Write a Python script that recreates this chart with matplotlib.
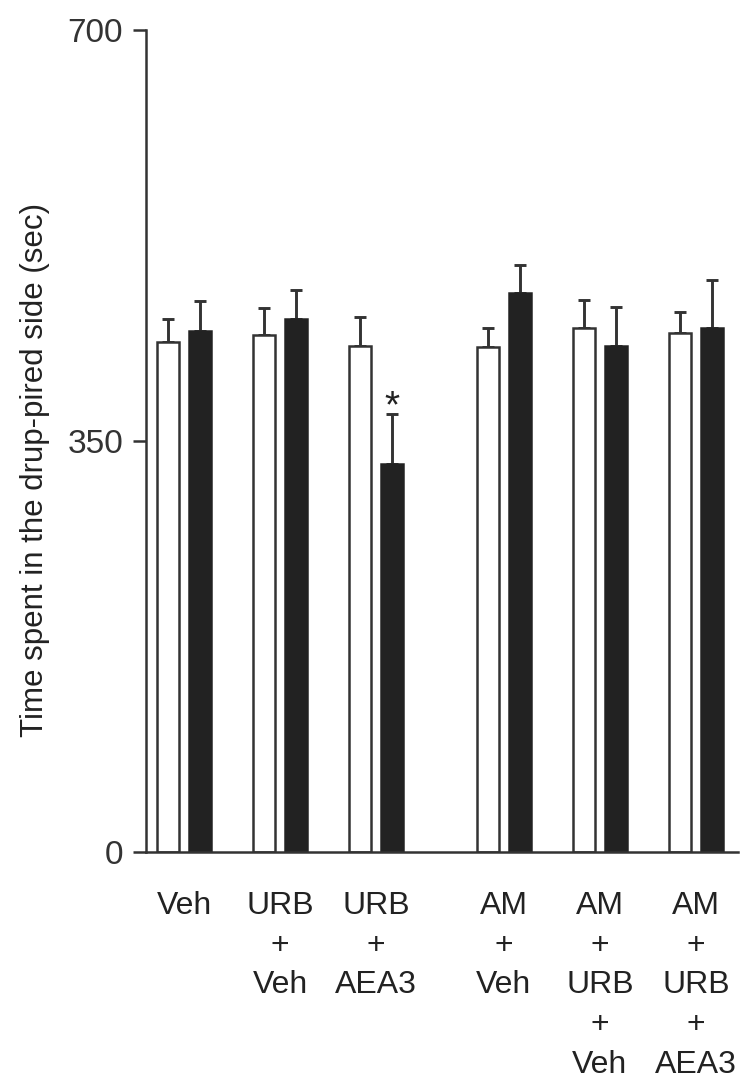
import numpy as np
import matplotlib.pyplot as plt

plt.rcParams['font.family'] = ['Liberation Sans', 'DejaVu Sans']

groups = ["Veh", "URB\n+\nVeh", "URB\n+\nAEA3", "AM\n+\nVeh", "AM\n+\nURB\n+\nVeh", "AM\n+\nURB\n+\nAEA3"]
white_vals = [434, 440, 431, 430, 446, 442]
white_err = [20, 23, 25, 16, 24, 18]
black_vals = [444, 454, 330, 476, 431, 446]
black_err = [25, 25, 43, 24, 33, 41]
star_group = 2

# group centres: extra gap between the URB and AM blocks
pos = np.array([0, 1, 2, 3.333, 4.333, 5.333])
w = 0.23
off = 0.167

fig = plt.figure(figsize=(7.49, 10.83), dpi=100)
ax = fig.add_axes([0.195, 0.2133, 0.79, 0.759])

ax.bar(pos - off, white_vals, w, color='white', edgecolor='#333333', linewidth=1.8, zorder=2)
ax.bar(pos + off, black_vals, w, color='#222222', edgecolor='#222222', linewidth=1.8, zorder=2)
ax.errorbar(pos - off, white_vals, yerr=[np.zeros(6), white_err], fmt='none',
            ecolor='#333333', elinewidth=2.1, capsize=4.3, capthick=2.1, zorder=1)
ax.errorbar(pos + off, black_vals, yerr=[np.zeros(6), black_err], fmt='none',
            ecolor='#333333', elinewidth=2.1, capsize=4.3, capthick=2.1, zorder=1)

ax.annotate('*', (pos[star_group] + off, black_vals[star_group] + black_err[star_group]),
            xytext=(0, 5), textcoords='offset points', ha='center', va='center',
            fontsize=28, color='#222222')

ax.set_xlim(-0.396, 5.77)
ax.set_ylim(0, 700)
ax.set_yticks([0, 350, 700])
ax.tick_params(axis='y', direction='out', length=9.5, width=1.8, labelsize=24,
               pad=7, colors='#333333')
ax.set_xticks(pos)
ax.set_xticklabels(groups, fontsize=23, linespacing=1.42, color='#222222', va='top')
ax.tick_params(axis='x', length=0, pad=28)

for s in ['top', 'right']:
    ax.spines[s].set_visible(False)
for s in ['left', 'bottom']:
    ax.spines[s].set_linewidth(1.8)
    ax.spines[s].set_color('#333333')

ax.set_ylabel('Time spent in the drup-pired side (sec)', fontsize=22.5, color='#222222')
ax.yaxis.set_label_coords(-0.162, 0.465)

fig.savefig('out.png', dpi=100)
